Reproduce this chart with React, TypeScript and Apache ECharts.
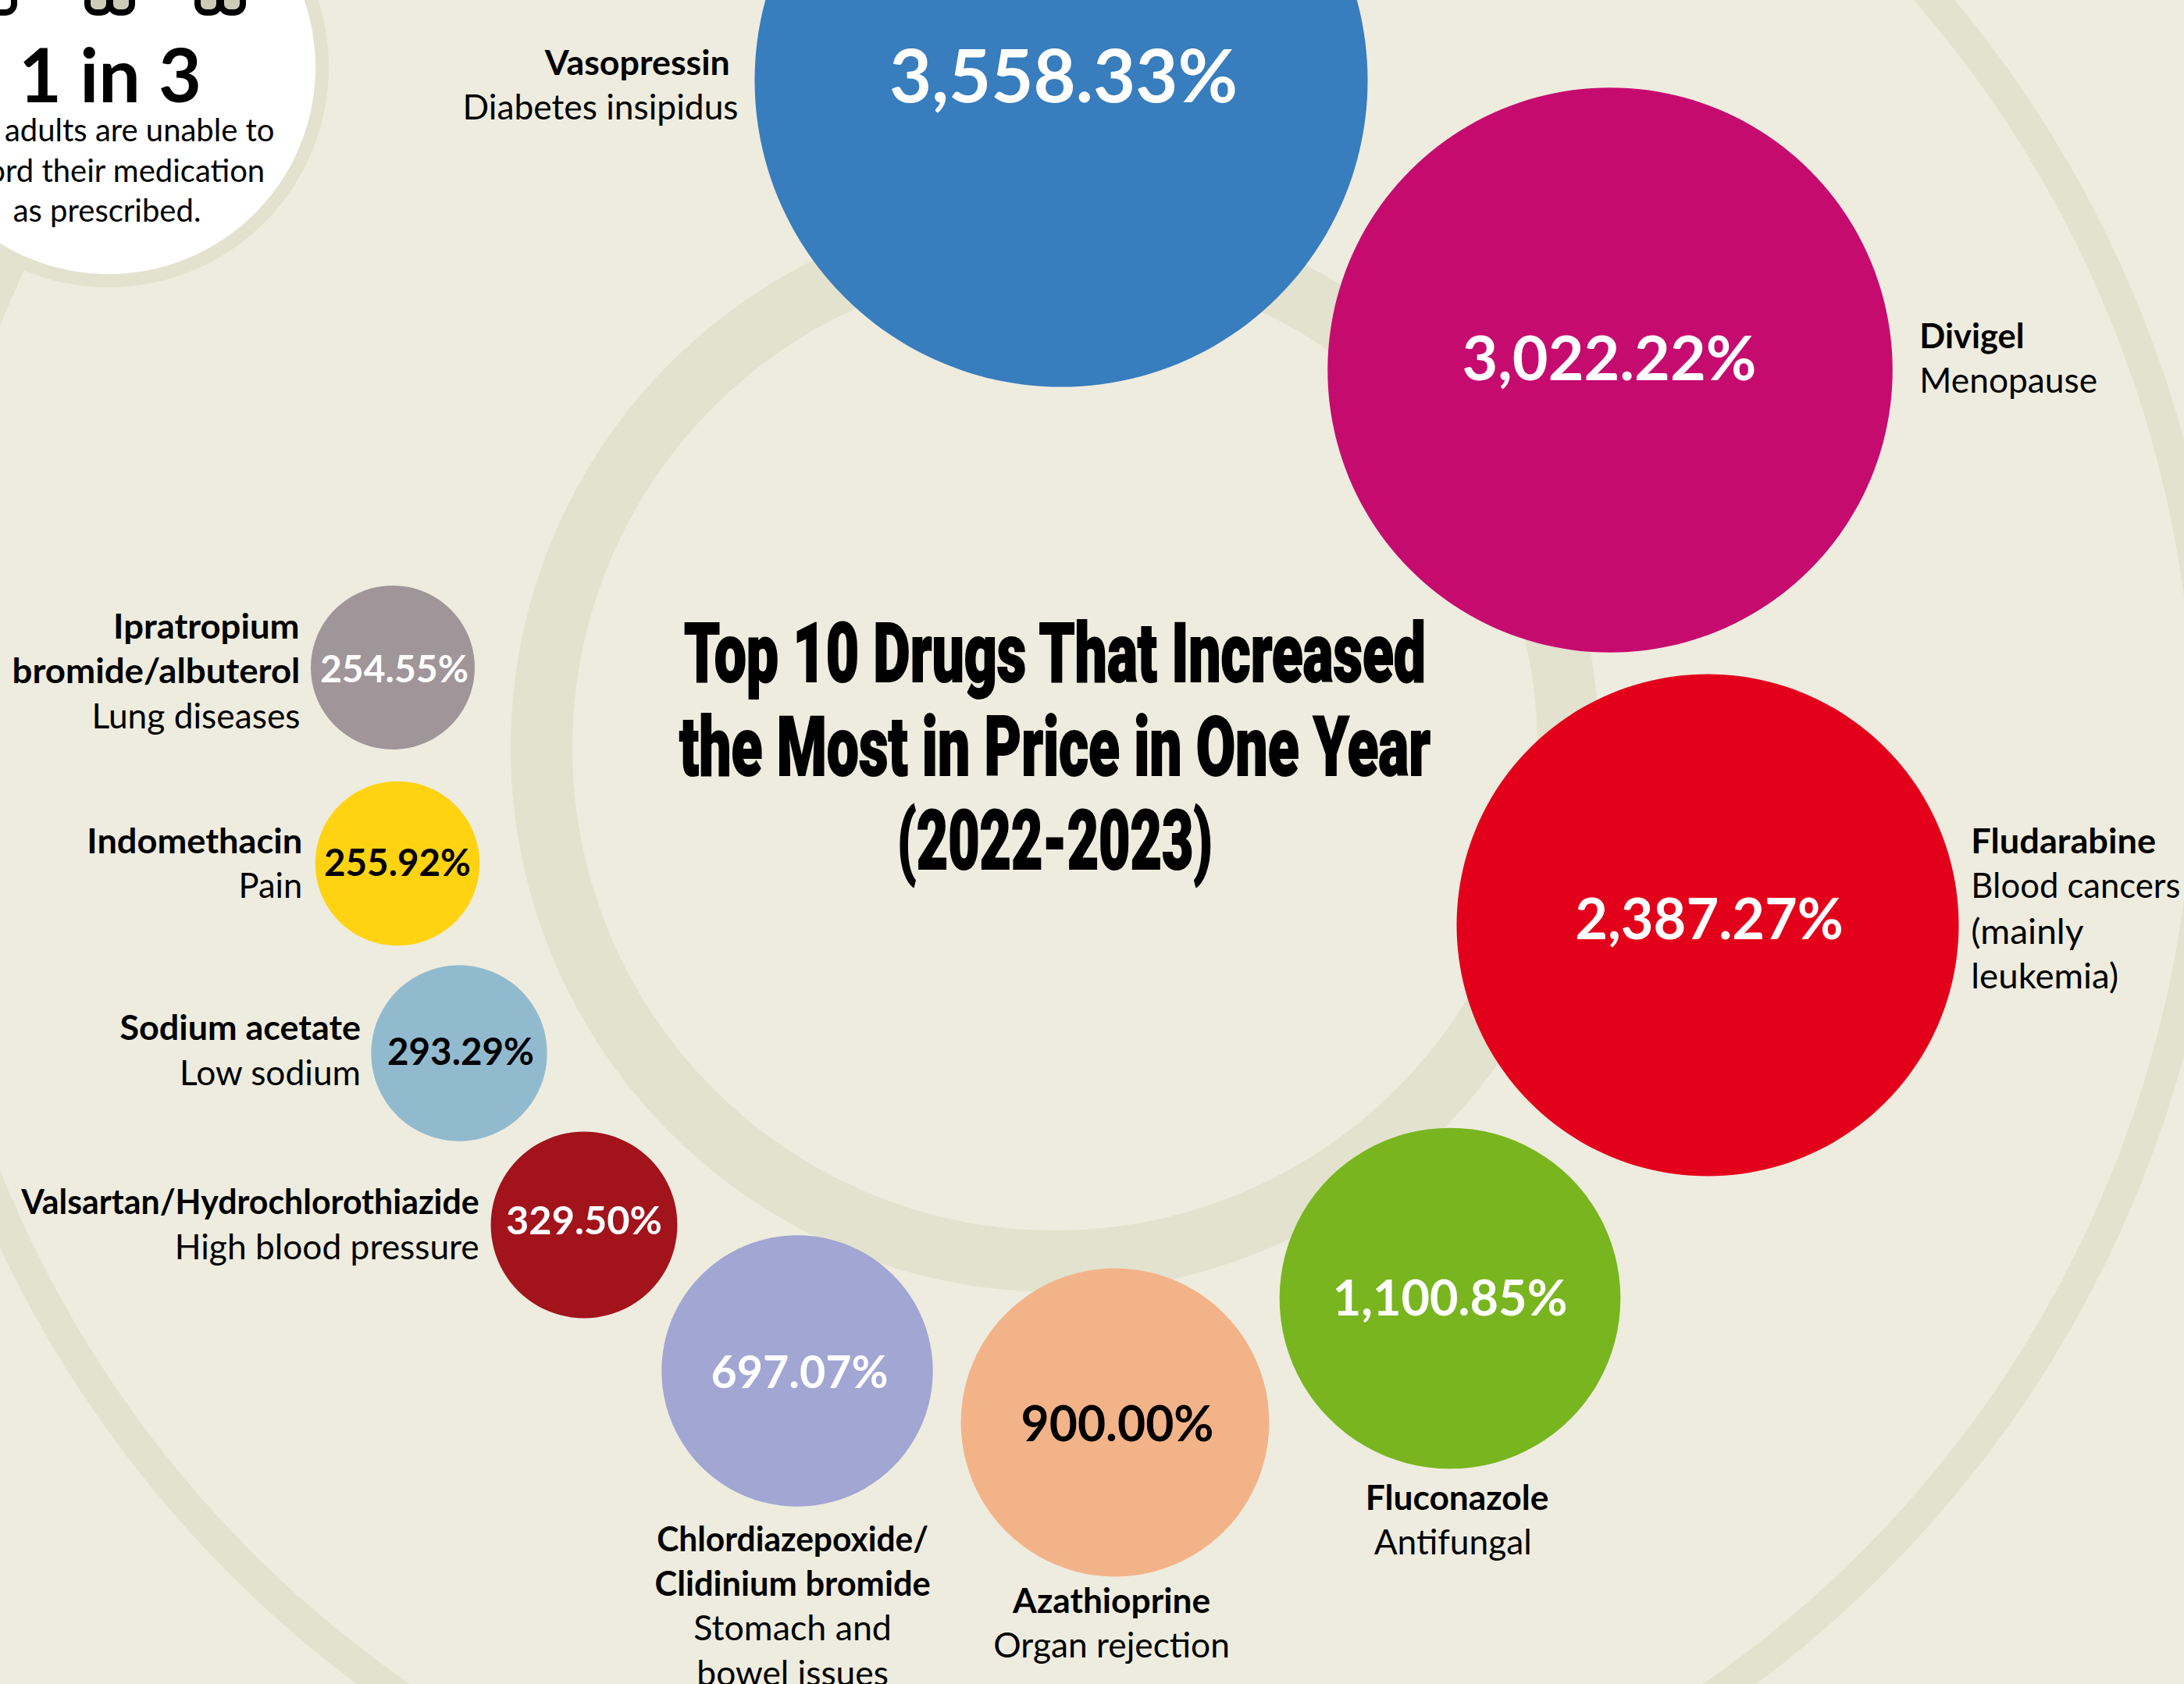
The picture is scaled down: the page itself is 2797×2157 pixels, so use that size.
import React, { useEffect, useRef } from "react";
import * as echarts from "echarts";

const drugs = ["Vasopressin", "Divigel", "Fludarabine", "Fluconazole", "Azathioprine", "Chlordiazepoxide/Clidinium bromide", "Valsartan/Hydrochlorothiazide", "Sodium acetate", "Indomethacin", "Ipratropium bromide/albuterol"];
const conditions = ["Diabetes insipidus", "Menopause", "Blood cancers (mainly leukemia)", "Antifungal", "Organ rejection", "Stomach and bowel issues", "High blood pressure", "Low sodium", "Pain", "Lung diseases"];
const priceIncreasePct = [3558.33, 3022.22, 2387.27, 1100.85, 900.0, 697.07, 329.5, 293.29, 255.92, 254.55];

const titleLines = ["Top 10 Drugs That Increased", "the Most in Price in One Year", "(2022-2023)"];
const titleWidthFit = [0.697, 0.697, 0.664];
const calloutHeadline = "1 in 3";
const calloutLines = ["U.S. adults are unable to", "afford their medication", "as prescribed."];

// layout of the packed bubbles on the page-sized hidden axes
const bubbleX = [1359, 2062, 2187, 1857, 1428, 1021, 748, 588, 509, 503];
const bubbleY = [103, 474, 1185, 1663, 1822, 1756, 1569, 1349, 1106, 855];
const bubbleColors = ["#387DBD", "#C60B6F", "#E3001B", "#79B51F", "#F3B389", "#A2A6D2", "#A2131C", "#92BACF", "#FFD312", "#A09599"];
const labelColors = ["#fff", "#fff", "#fff", "#fff", "#000", "#fff", "#fff", "#000", "#000", "#fff"];
const labelSizes = [93.5, 79, 72, 63, 62.4, 57.4, 50.5, 47.5, 47.5, 48];
const labelOffsetX = [3, -1, 2, 0, 3, 3, 0, 2, 0, 2];
const labelOffsetY = [-8, -18, -10, -3, -1, -1, -8, -4, -3, 0];

const BODY = "Lato, Carlito, sans-serif";
const AREA_PER_POINT = 43.3;
const W = 2797;
const H = 2157;
const RING = "#E3E2CE";

type Line = [string, number, number, "left" | "right" | "center", boolean, number];
// text, x, y (shown-scale positions converted below), anchor, bold, width fit
const k = 1.784;
const nameLines: Line[] = [
  ["Vasopressin", 524, 45, "right", true, 1.01],
  ["Diabetes insipidus", 530, 77, "right", false, 1],
  ["Divigel", 1378, 241, "left", true, 0.98],
  ["Menopause", 1378, 273, "left", false, 1],
  ["Fludarabine", 1415, 604, "left", true, 1.02],
  ["Blood cancers", 1415, 636, "left", false, 0.985],
  ["(mainly", 1415, 669, "left", false, 1.04],
  ["leukemia)", 1415, 701, "left", false, 1.03],
  ["Fluconazole", 1046, 1075, "center", true, 1],
  ["Antifungal", 1043, 1107, "center", false, 1],
  ["Azathioprine", 798, 1149, "center", true, 1],
  ["Organ rejection", 798, 1181, "center", false, 1],
  ["Chlordiazepoxide/", 569, 1105, "center", true, 0.96],
  ["Clidinium bromide", 569, 1137, "center", true, 0.98],
  ["Stomach and", 569, 1169, "center", false, 1.01],
  ["bowel issues", 569, 1201, "center", false, 1],
  ["Valsartan/Hydrochlorothiazide", 344, 863, "right", true, 0.968],
  ["High blood pressure", 344, 895, "right", false, 1],
  ["Sodium acetate", 259, 738, "right", true, 1.014],
  ["Low sodium", 259, 770, "right", false, 1],
  ["Indomethacin", 217, 604, "right", true, 1.02],
  ["Pain", 217, 636, "right", false, 0.98],
  ["Ipratropium", 215, 450, "right", true, 1.025],
  ["bromide/albuterol", 215.5, 482, "right", true, 1.03],
  ["Lung diseases", 215.5, 514, "right", false, 1],
];

const fmt = (v: number) =>
  v.toLocaleString("en-US", { minimumFractionDigits: 2, maximumFractionDigits: 2 }) + "%";

function toe(x: number, fill = "#CCCBB8") {
  return {
    type: "rect",
    z: 2,
    shape: { x, y: -40, width: 28, height: 56, r: 11 },
    style: { fill, stroke: "#000", lineWidth: 8 },
  };
}

export default function App() {
  const ref = useRef<HTMLDivElement>(null);
  useEffect(() => {
    document.body.style.margin = "0";
    const chart = echarts.init(ref.current!, undefined, { renderer: "svg" });
    const graphics: any[] = [
      { type: "ring", z: 0, shape: { cx: 1353, cy: 958, r: 1497, r0: 1457 }, style: { fill: RING } },
      { type: "ring", z: 0, shape: { cx: 1351, cy: 958, r: 697, r0: 618 }, style: { fill: RING } },
      { type: "circle", z: 1, shape: { cx: 139, cy: 86, r: 282 }, style: { fill: RING } },
      { type: "circle", z: 1, shape: { cx: 139, cy: 86, r: 265 }, style: { fill: "#fff" } },
      toe(-10, "#fff"),
      toe(112),
      toe(141),
      toe(253),
      toe(283),
      {
        type: "text", z: 3, x: 141, y: 94,
        style: { text: calloutHeadline, fill: "#000", font: `bold 95px ${BODY}`, textAlign: "center", textVerticalAlign: "middle" },
      },
      ...calloutLines.map((t, i) => ({
        type: "text", z: 3, x: i === 2 ? 137 : 139, y: 166 + i * 51.5,
        style: { text: t, fill: "#000", font: `40px ${BODY}`, textAlign: "center", textVerticalAlign: "middle" },
      })),
      ...titleLines.map((t, i) => ({
        type: "text", z: 3, x: 1351, y: 837 + i * 120, scaleX: titleWidthFit[i],
        style: { text: t, fill: "#000", stroke: "#000", lineWidth: 2, font: `900 105px Roboto, sans-serif`, textAlign: "center", textVerticalAlign: "middle" },
      })),
      ...nameLines.map(([t, x, y, align, bold, fit]) => ({
        type: "text", z: 3, x: x * k, y: y * k - 1.5, scaleX: fit,
        style: { text: t, fill: "#000", font: `${bold ? "bold " : ""}44.3px ${BODY}`, textAlign: align, textVerticalAlign: "middle" },
      })),
    ];
    chart.setOption({
      animation: false,
      backgroundColor: "#EEECDF",
      grid: { left: 0, right: 0, top: 0, bottom: 0 },
      xAxis: { type: "value", min: 0, max: W, show: false },
      yAxis: { type: "value", min: 0, max: H, inverse: true, show: false },
      graphic: graphics,
      series: [
        {
          type: "scatter",
          clip: false,
          z: 5,
          symbolSize: (d: number[]) => 2 * Math.sqrt(AREA_PER_POINT * d[2]),
          data: drugs.map((name, i) => ({
            name,
            value: [bubbleX[i], bubbleY[i], priceIncreasePct[i]],
            itemStyle: { color: bubbleColors[i], opacity: 1 },
            label: {
              show: true,
              position: "inside",
              formatter: fmt(priceIncreasePct[i]),
              color: labelColors[i],
              fontFamily: BODY,
              fontWeight: "bold",
              fontSize: labelSizes[i],
              offset: [labelOffsetX[i], labelOffsetY[i]],
            },
          })),
        },
      ],
    });
    return () => chart.dispose();
  }, []);
  return <div ref={ref} style={{ position: "absolute", left: 0, top: 0, width: W, height: H, overflow: "hidden" }} />;
}
